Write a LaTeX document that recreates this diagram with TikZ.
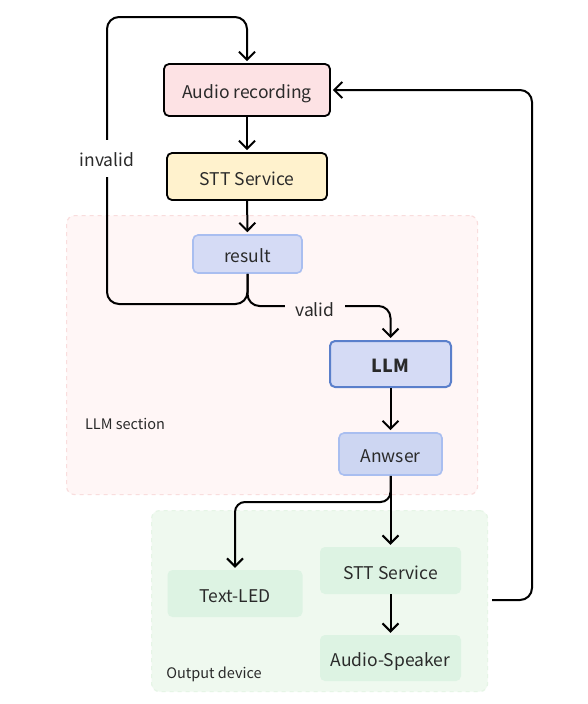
\documentclass[tikz,border=0pt]{standalone}
\usepackage{fontspec}
\setmainfont{Noto Sans CJK SC}
\usetikzlibrary{arrows.meta}
\definecolor{txt}{HTML}{2A2A2A}
\definecolor{audiofill}{HTML}{FDE2E4}
\definecolor{sttfill}{HTML}{FFF2CD}
\definecolor{bluefill}{HTML}{D5DBF5}
\definecolor{bluefillb}{HTML}{CDD6F2}
\definecolor{blueedge}{HTML}{A9BEF0}
\definecolor{llmedge}{HTML}{5A7FCB}
\definecolor{llmbg}{HTML}{FFF6F6}
\definecolor{llmbgedge}{HTML}{F9DDDD}
\definecolor{outbg}{HTML}{EFF9EF}
\definecolor{outbgedge}{HTML}{E6F5E6}
\definecolor{greenfill}{HTML}{DDF3E3}
\tikzset{
  box/.style={rectangle, rounded corners=5pt, minimum width=#1, text=txt, font=\fontsize{17.5}{19}\selectfont, inner sep=0pt, text height=17pt, text depth=0pt},
  blackbox/.style={box=#1, draw=black, line width=1.8pt, minimum height=49pt},
  bluebox/.style={box=#1, draw=blueedge, line width=1.6pt, fill=bluefill, minimum height=38pt},
  greenbox/.style={box=#1, fill=greenfill, minimum height=47pt},
  group/.style={rectangle, rounded corners=8pt, dashed, line width=1.2pt, dash pattern=on 4pt off 4pt},
  arr/.style={line width=2pt, -{Straight Barb[length=8pt,width=16pt,line width=2pt]}, shorten >=2pt},
  lab/.style={text=txt, font=\fontsize{17.5}{19}\selectfont, inner xsep=10pt, inner ysep=10pt, text height=17pt, text depth=0pt},
  grouplab/.style={text=txt, font=\fontsize{14.5}{16}\selectfont, inner sep=0pt, text height=13.5pt, text depth=0pt},
}
\begin{document}
\begin{tikzpicture}[x=1pt, y=-1pt]
\useasboundingbox (0,0) rectangle (587,704);
\fill[white] (0,0) rectangle (587,704);
% group backgrounds
\node[group, fill=llmbg, draw=llmbgedge, minimum width=411pt, minimum height=279pt, anchor=north west] (llmsec) at (66,215) {};
\node[group, fill=outbg, draw=outbgedge, minimum width=336pt, minimum height=181pt, anchor=north west] (outsec) at (151,510) {};
\node[grouplab] (llmlab) at (125,423) {LLM section};
\node[grouplab] (outlab) at (214,672) {Output device};
% nodes
\node[blackbox=166pt, fill=audiofill, minimum height=52pt] (audio) at (247,90) {Audio recording};
\node[blackbox=160pt, fill=sttfill, minimum height=47pt] (stt1) at (247,176.5) {STT Service};
\node[bluebox=109pt] (result) at (247.5,254) {result};
\node[box=121pt, draw=llmedge, line width=2pt, fill=bluefill, minimum height=46pt, font=\fontsize{18}{19}\selectfont\bfseries] (llm) at (390.5,364) {LLM};
\node[bluebox=103pt, fill=bluefillb, minimum height=42pt] (ans) at (390.5,454) {Anwser};
\node[greenbox=135pt] (led) at (235,593.5) {Text-LED};
\node[greenbox=141pt] (stt2) at (390.5,570.5) {STT Service};
\node[greenbox=141pt, minimum height=46pt] (spk) at (390.5,658) {Audio-Speaker};
% connectors
\draw[arr] (audio) -- (stt1);
\draw[arr] (stt1) -- (result);
\draw[arr, rounded corners=12pt] (result.south) |- (107,304) -- (107,17) -| (audio.north);
\draw[arr, rounded corners=12pt] (result.south) |- (390.5,306) -- (llm.north);
\node[lab, fill=white] (invlab) at (107,158) {invalid};
\node[lab, fill=llmbg] (vallab) at (315,308) {valid};
\draw[arr] (llm) -- (ans);
\draw[arr, rounded corners=10pt] (ans.south) |- (235,502) -- (led.north);
\draw[arr] (ans) -- (stt2);
\draw[arr] (stt2) -- (spk);
\coordinate (fbstart) at (492,600);
\draw[arr, rounded corners=12pt] (fbstart) -| (532,90) -- (audio.east);
\end{tikzpicture}
\end{document}
